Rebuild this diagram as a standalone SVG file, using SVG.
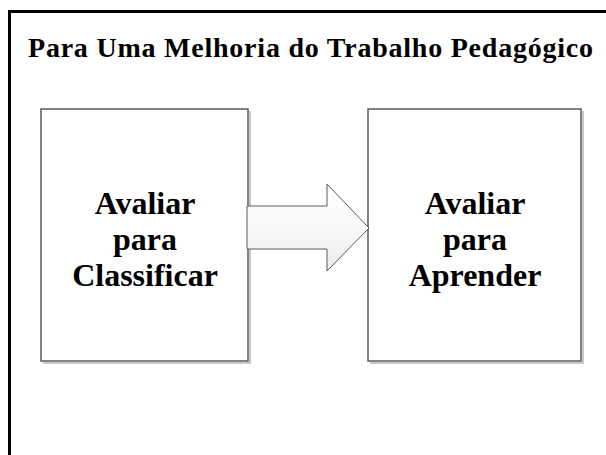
<svg xmlns="http://www.w3.org/2000/svg" width="606" height="455" viewBox="0 0 606 455">
  <style>
    .frame { fill: none; stroke: #000; stroke-width: 3; }
    .box { fill: #fff; stroke: #5a5a5a; stroke-width: 1.5; }
    .shadow { fill: none; stroke: #c8c8c8; stroke-width: 2; }
    .title { font-family: "Liberation Serif", "Times New Roman", serif; font-weight: bold; font-size: 28px; fill: #000; }
    .label { font-family: "Liberation Serif", "Times New Roman", serif; font-weight: bold; font-size: 32px; fill: #000; text-anchor: middle; }
    .arrow { stroke: #5a5a5a; stroke-width: 1; }
  </style>
  <defs>
    <linearGradient id="arrowFill" x1="0" y1="0" x2="0" y2="1">
      <stop offset="0" stop-color="#ffffff"/>
      <stop offset="0.6" stop-color="#f7f7f7"/>
      <stop offset="1" stop-color="#ececec"/>
    </linearGradient>
  </defs>
  <rect x="0" y="0" width="606" height="455" fill="#fff"/>
  <rect class="frame" x="9.5" y="11.5" width="700" height="500"/>
  <text id="title" class="title" x="28" y="57" textLength="565" lengthAdjust="spacing">Para Uma Melhoria do Trabalho Pedagógico</text>

  <g id="node-classificar">
    <polyline class="shadow" points="250,111 250,363 43,363"/>
    <rect class="box" x="41" y="109" width="207" height="252"/>
    <text class="label" x="145" y="214">Avaliar</text>
    <text class="label" x="145" y="250">para</text>
    <text class="label" x="145" y="286">Classificar</text>
  </g>

  <g id="node-aprender">
    <polyline class="shadow" points="583,111 583,363 370,363"/>
    <rect class="box" x="368" y="109" width="213" height="252"/>
    <text class="label" x="475" y="214">Avaliar</text>
    <text class="label" x="475" y="250">para</text>
    <text class="label" x="475" y="286">Aprender</text>
  </g>

  <g id="connectors">
    <polygon class="arrow" fill="url(#arrowFill)" points="247,206 327,206 327,184 369,228 327,271 327,249 247,249"/>
  </g>
</svg>
